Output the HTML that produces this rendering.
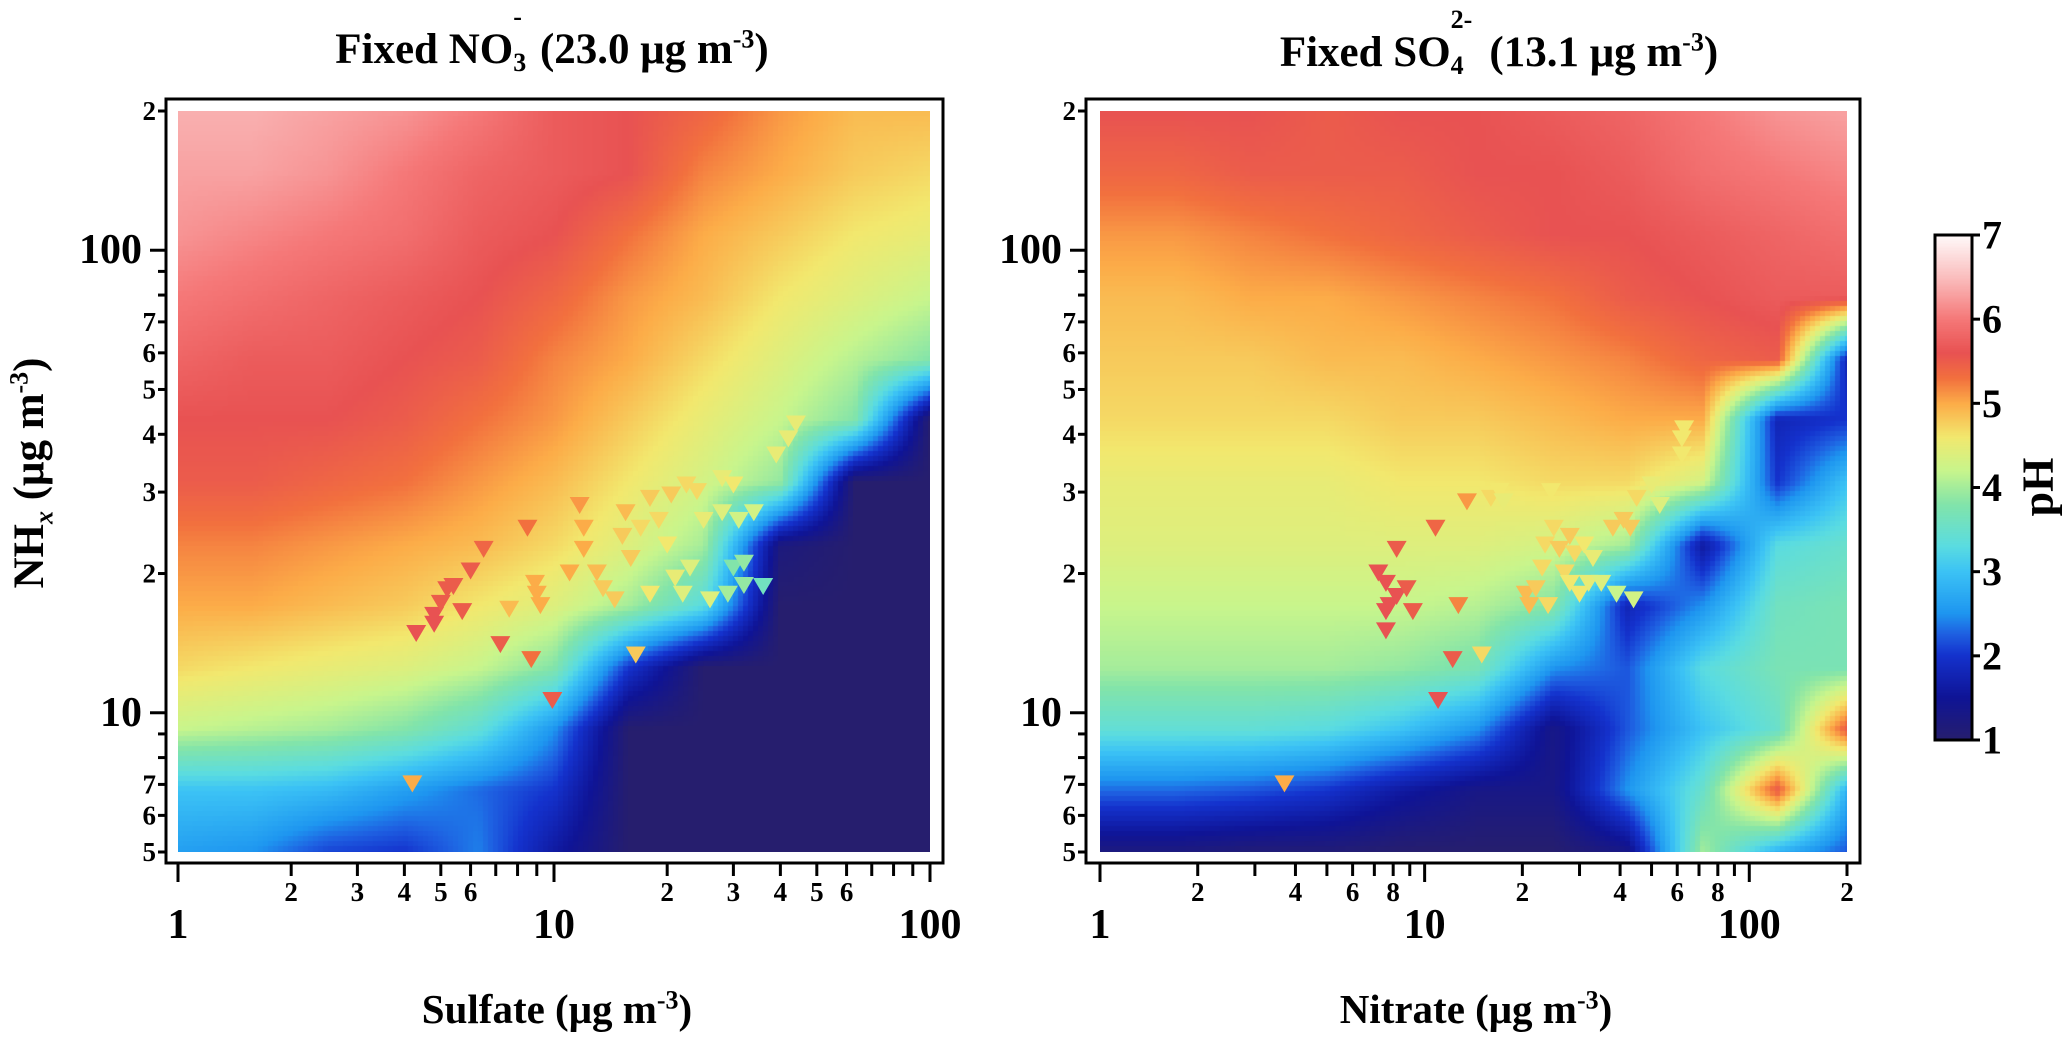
<!DOCTYPE html>
<html><head><meta charset="utf-8">
<style>
html,body{margin:0;padding:0;background:#fff;}
body{width:2067px;height:1046px;position:relative;overflow:hidden;font-family:"Liberation Serif",serif;font-weight:bold;color:#000;}
.abs{position:absolute;}
canvas{position:absolute;}
.title{font-size:43px;white-space:nowrap;transform:translate(-50%,-50%);}
.xt{font-size:41px;white-space:nowrap;transform:translate(-50%,-50%);}
sup,sub{font-size:26px;}
.ss{display:inline-block;position:relative;width:16px;height:1em;vertical-align:baseline;}
.ss .u{position:absolute;left:0;top:-18px;font-size:26px;}
.ss .d{position:absolute;left:0;top:28px;font-size:26px;}
</style></head>
<body>
<div class="abs title" style="left:552px;top:47px">Fixed NO<span class="ss"><span class="u">-</span><span class="d">3</span></span> (23.0 μg m<sup>-3</sup>)</div>
<div class="abs title" style="left:1499px;top:50px">Fixed SO<span class="ss" style="width:28px"><span class="u">2-</span><span class="d">4</span></span> (13.1 μg m<sup>-3</sup>)</div>
<div class="abs xt" style="left:557px;top:1009px">Sulfate (μg m<sup>-3</sup>)</div>
<div class="abs xt" style="left:1476px;top:1009px">Nitrate (μg m<sup>-3</sup>)</div>
<div class="abs xt" style="left:32px;top:473px;font-size:43px;transform:translate(-50%,-50%) rotate(-90deg)">NH<sub><i>x</i></sub> (μg m<sup>-3</sup>)</div>
<div class="abs xt" style="left:2038px;top:487px;font-size:44px;transform:translate(-50%,-50%) rotate(-90deg)">pH</div>
<canvas id="cL" width="752" height="741" style="left:178px;top:111px"></canvas>
<canvas id="cR" width="747" height="741" style="left:1100px;top:111px"></canvas>
<canvas id="cB" width="37" height="505" style="left:1935px;top:235px"></canvas>
<svg id="svg" class="abs" style="left:0;top:0" width="2067" height="1046"></svg>
<script>
// ---- data ----
const leftCols = [1,1.58,2.5,4,6.3,10,15.8,25,40,63,100];
const rightCols = [1,1.7,2.9,5,8.5,14.5,25,42,72,122,200];
const gridRows = [200,147,108,79,58,43,31.5,23,17,12.5,9.2,6.8,5];
const leftPH = [
[6.4,6.4,6.3,6.2,6.0,5.7,5.6,5.4,5.1,4.9,4.9],
[6.3,6.3,6.2,6.0,5.8,5.7,5.6,5.2,5.0,4.8,4.7],
[6.2,6.1,6.0,5.9,5.7,5.6,5.3,5.0,4.8,4.6,4.5],
[6.0,5.9,5.8,5.7,5.6,5.4,5.1,4.9,4.6,4.4,4.2],
[5.8,5.7,5.7,5.6,5.5,5.2,5.0,4.7,4.4,4.1,3.8],
[5.6,5.6,5.6,5.5,5.3,5.1,4.8,4.5,4.2,3.8,1.0],
[5.5,5.5,5.4,5.3,5.1,4.9,4.6,4.3,3.9,1.0,1.0],
[5.2,5.2,5.1,5.0,4.9,4.7,4.4,4.0,1.2,1.0,1.0],
[5.0,5.0,4.9,4.8,4.6,4.4,4.0,3.3,1.0,1.0,1.0],
[4.7,4.6,4.5,4.4,4.2,3.8,2.0,1.0,1.0,1.0,1.0],
[4.2,4.1,4.0,3.8,3.4,2.5,1.0,1.0,1.0,1.0,1.0],
[3.0,3.0,2.9,2.6,2.3,2.0,1.0,1.0,1.0,1.0,1.0],
[2.6,2.5,2.1,2.0,2.4,1.6,1.0,1.0,1.0,1.0,1.0]];
const rightPH = [
[5.6,5.6,5.6,5.5,5.6,5.6,5.7,5.8,6.0,6.2,6.3],
[5.4,5.4,5.5,5.5,5.5,5.6,5.6,5.7,5.9,6.0,6.1],
[5.1,5.1,5.2,5.3,5.4,5.5,5.6,5.6,5.7,5.8,5.9],
[4.9,4.9,5.0,5.0,5.1,5.2,5.3,5.5,5.6,5.7,5.7],
[4.8,4.8,4.8,4.9,4.9,5.0,5.1,5.2,5.4,5.5,1.8],
[4.7,4.7,4.7,4.7,4.8,4.8,4.9,5.0,5.0,1.8,2.0],
[4.5,4.5,4.5,4.5,4.6,4.6,4.7,4.7,4.3,2.0,3.0],
[4.4,4.4,4.4,4.4,4.4,4.4,4.3,4.0,1.6,3.3,3.5],
[4.2,4.2,4.2,4.2,4.2,4.1,3.8,1.8,2.5,3.6,3.7],
[4.0,4.0,4.0,4.0,3.9,3.7,2.5,2.2,3.3,3.7,3.7],
[3.4,3.4,3.4,3.3,3.0,2.5,1.3,2.2,3.0,3.5,5.5],
[2.3,2.3,2.2,2.0,1.6,1.3,1.3,2.5,3.5,5.5,2.8],
[1.2,1.2,1.1,1.1,1.0,1.0,1.0,1.3,4.0,2.8,2.2]];
const leftPtsX = [4.3,4.8,4.8,5.0,5.2,5.4,5.7,6.0,6.5,7.2,8.5,8.7,8.9,9.0,9.2,7.6,9.9,4.2,11,11.7,12,12,13,13.5,14.5,15.2,15.5,16,16.5,17,18,18,19,20,20.5,21,22,22.5,23,24,25,26,28,28,29,30,30,31,32,32,34,36,39,42,44];
const leftPtsY = [14.8,15.5,16.2,17.2,18.4,18.7,16.5,20.2,22.5,14,25,13,19,18,17,16.7,10.6,7.0,20,28,25,22.5,20,18.5,17.5,24,27,21.5,13.3,25,29,18,26,23,29.5,19.5,18,31,20.5,30,26,17.5,27,32,18,31,20.5,26,18.8,21,27,18.7,36,39,42];
const leftPtsPH = [5.6,5.6,5.6,5.5,5.5,5.5,5.5,5.5,5.4,5.5,5.3,5.3,5.0,5.0,5.0,4.9,5.5,5.0,5.0,5.1,5.0,5.0,4.9,4.8,4.8,4.8,4.9,4.8,4.8,4.7,4.8,4.6,4.7,4.6,4.8,4.5,4.4,4.7,4.4,4.7,4.5,4.4,4.4,4.5,4.0,4.6,3.8,4.3,3.9,3.9,4.3,3.6,4.5,4.5,4.5];
const rightPtsX = [7.2,7.6,7.8,7.6,7.6,8.2,8.2,8.8,9.2,10.8,11,12.2,12.7,13.5,15,16,17,17.5,20.5,21,22,23,23.5,24,24.5,25,26,27,28,28,29,30,31,32,33,35,38,39,41,43,44,45,50,53,62,63,62,3.7];
const rightPtsY = [20,19,17,16.5,15,17.8,22.5,18.5,16.5,25,10.6,13,17,28.5,13.3,29,30,28.5,18,17,18.5,20.5,23,17,30,25,22.5,20,19,24,22,18,23,19,21.5,19,25,18,26,25,17.5,29,31,28,39,41,36,7.0];
const rightPtsPH = [5.6,5.6,5.6,5.6,5.6,5.6,5.5,5.5,5.5,5.4,5.6,5.5,5.2,5.1,4.7,4.7,4.6,4.5,4.9,4.9,4.8,4.7,4.7,4.7,4.6,4.7,4.8,4.7,4.6,4.8,4.7,4.6,4.6,4.5,4.5,4.4,4.8,4.2,4.8,4.8,4.3,4.7,4.5,4.4,4.6,4.6,4.6,5.0];
const cbTicks = [1,2,3,4,5,6,7];

// ---- colormap ----
const cmapStops = [[1.0,[38,30,110]],[1.5,[15,20,150]],[2.0,[20,50,205]],[2.25,[30,95,225]],[2.5,[30,150,240]],[3.0,[60,195,245]],[3.3,[90,220,225]],[3.8,[130,228,170]],[4.2,[200,245,140]],[4.6,[242,232,110]],[5.0,[252,172,72]],[5.3,[242,112,62]],[5.6,[232,82,82]],[6.0,[245,120,120]],[6.5,[250,190,190]],[7.0,[255,250,250]]];
function cmap(v){
  if(v<=cmapStops[0][0]) return cmapStops[0][1];
  for(let i=1;i<cmapStops.length;i++){
    if(v<=cmapStops[i][0]){const a=cmapStops[i-1],b=cmapStops[i];const t=(v-a[0])/(b[0]-a[0]);
      return [0,1,2].map(k=>Math.round(a[1][k]+(b[1][k]-a[1][k])*t));}
  }
  return cmapStops[cmapStops.length-1][1];
}
const Y0=111,Y1=852,YMIN=5,YMAX=200;
function yScale(v){return Y1-(Math.log10(v)-Math.log10(YMIN))/(Math.log10(YMAX)-Math.log10(YMIN))*(Y1-Y0);}
function xL(v){return 178+(Math.log10(v))/2*(930-178);}
function xR(v){return 1100+(Math.log10(v))/Math.log10(200)*(1847-1100);}

function drawHeat(id,cols,grid){
  const c=document.getElementById(id),ctx=c.getContext('2d');
  const W=c.width,H=c.height,img=ctx.createImageData(W,H);
  const lc=cols.map(v=>Math.log10(v)), lr=gridRows.map(v=>Math.log10(v));
  const step=5;
  for(let py=0;py<H;py+=step){
    const yv=Math.log10(YMIN)+(1-(py+step/2)/H)*(Math.log10(YMAX)-Math.log10(YMIN));
    let r=0;while(r<lr.length-2&&yv<lr[r+1])r++;
    let ty=(lr[r]-yv)/(lr[r]-lr[r+1]);ty=Math.max(0,Math.min(1,ty));
    for(let px=0;px<W;px+=step){
      const xv=lc[0]+((px+step/2)/W)*(lc[lc.length-1]-lc[0]);
      let k=0;while(k<lc.length-2&&xv>lc[k+1])k++;
      let tx=(xv-lc[k])/(lc[k+1]-lc[k]);tx=Math.max(0,Math.min(1,tx));
      const v=(grid[r][k]*(1-tx)+grid[r][k+1]*tx)*(1-ty)+(grid[r+1][k]*(1-tx)+grid[r+1][k+1]*tx)*ty;
      const col=cmap(v);
      for(let yy=py;yy<Math.min(H,py+step);yy++)for(let xx=px;xx<Math.min(W,px+step);xx++){
        const o=(yy*W+xx)*4;img.data[o]=col[0];img.data[o+1]=col[1];img.data[o+2]=col[2];img.data[o+3]=255;}
    }
  }
  ctx.putImageData(img,0,0);
}
drawHeat('cL',leftCols,leftPH);
drawHeat('cR',rightCols,rightPH);
(function(){const c=document.getElementById('cB'),ctx=c.getContext('2d');
  for(let y=0;y<c.height;y++){const v=7-6*y/(c.height-1);const col=cmap(v);ctx.fillStyle='rgb('+col.join(',')+')';ctx.fillRect(0,y,c.width,1);}})();

const NS='http://www.w3.org/2000/svg',svg=document.getElementById('svg');
function mk(tag,attrs,parent){const e=document.createElementNS(NS,tag);for(const k in attrs)e.setAttribute(k,attrs[k]);(parent||svg).appendChild(e);return e;}
function txt(x,y,s,size,anchor){const t=mk('text',{x:x,y:y,'font-size':size,'text-anchor':anchor||'middle','dominant-baseline':'central','font-family':'Liberation Serif, serif','font-weight':'bold'});t.textContent=s;return t;}

function panel(name,fx0,fx1,xs,xTicks,xLabels,xMaj){
  const fr=mk('rect',{x:fx0,y:99,width:fx1-fx0,height:764,fill:'none',stroke:'#000','stroke-width':3});
  
  
  const yT=[5,6,7,8,9,10,20,30,40,50,60,70,80,90,100,200];
  const yLab={5:'5',6:'6',7:'7',20:'2',30:'3',40:'4',50:'5',60:'6',70:'7',200:'2'};
  yT.forEach(v=>{const y=yScale(v);const maj=(v===10||v===100);
    const l=mk('line',{x1:fx0-(maj?16:8),x2:fx0,y1:y,y2:y,stroke:'#000','stroke-width':3});
    
    
    if(maj){const t=txt(fx0-24,y,String(v),42,'end');}
    else if(yLab[v]){const t=txt(fx0-10,y,yLab[v],27,'end');}
  });
  xTicks.forEach(v=>{const x=xs(v);const maj=xMaj.includes(v);
    const l=mk('line',{x1:x,x2:x,y1:864,y2:maj?882:876,stroke:'#000','stroke-width':3});
    
    
    if(maj){const t=txt(x,925,String(v),42);}
    else if(xLabels[v]){const t=txt(x,892,xLabels[v],27);}
  });
}
panel('left',166,943,xL,[1,2,3,4,5,6,7,8,9,10,20,30,40,50,60,70,80,90,100],{2:'2',3:'3',4:'4',5:'5',6:'6',20:'2',30:'3',40:'4',50:'5',60:'6'},[1,10,100]);
panel('right',1086,1860,xR,[1,2,3,4,5,6,7,8,9,10,20,30,40,50,60,70,80,90,100,200],{2:'2',4:'4',6:'6',8:'8',20:'2',40:'4',60:'6',80:'8',200:'2'},[1,10,100]);

function markers(name,xs,X,Y,P){
  for(let i=0;i<X.length;i++){
    const x=xs(X[i]),y=yScale(Y[i]);const col=cmap(P[i]);
    const p=mk('polygon',{points:(x-10)+','+(y-9)+' '+(x+10)+','+(y-9)+' '+x+','+(y+8),fill:'rgb('+col.join(',')+')'});
    
    
  }
}
markers('left',xL,leftPtsX,leftPtsY,leftPtsPH);
markers('right',xR,rightPtsX,rightPtsY,rightPtsPH);

const cbr=mk('rect',{x:1935,y:235,width:37,height:505,fill:'none',stroke:'#000','stroke-width':3});


cbTicks.forEach(v=>{const y=740-(v-1)/6*505;
  const l=mk('line',{x1:1972,x2:1980,y1:y,y2:y,stroke:'#000','stroke-width':3});
  
  
  const t=txt(1982,y,String(v),40,'start');
  
  
});
</script>
</body></html>
